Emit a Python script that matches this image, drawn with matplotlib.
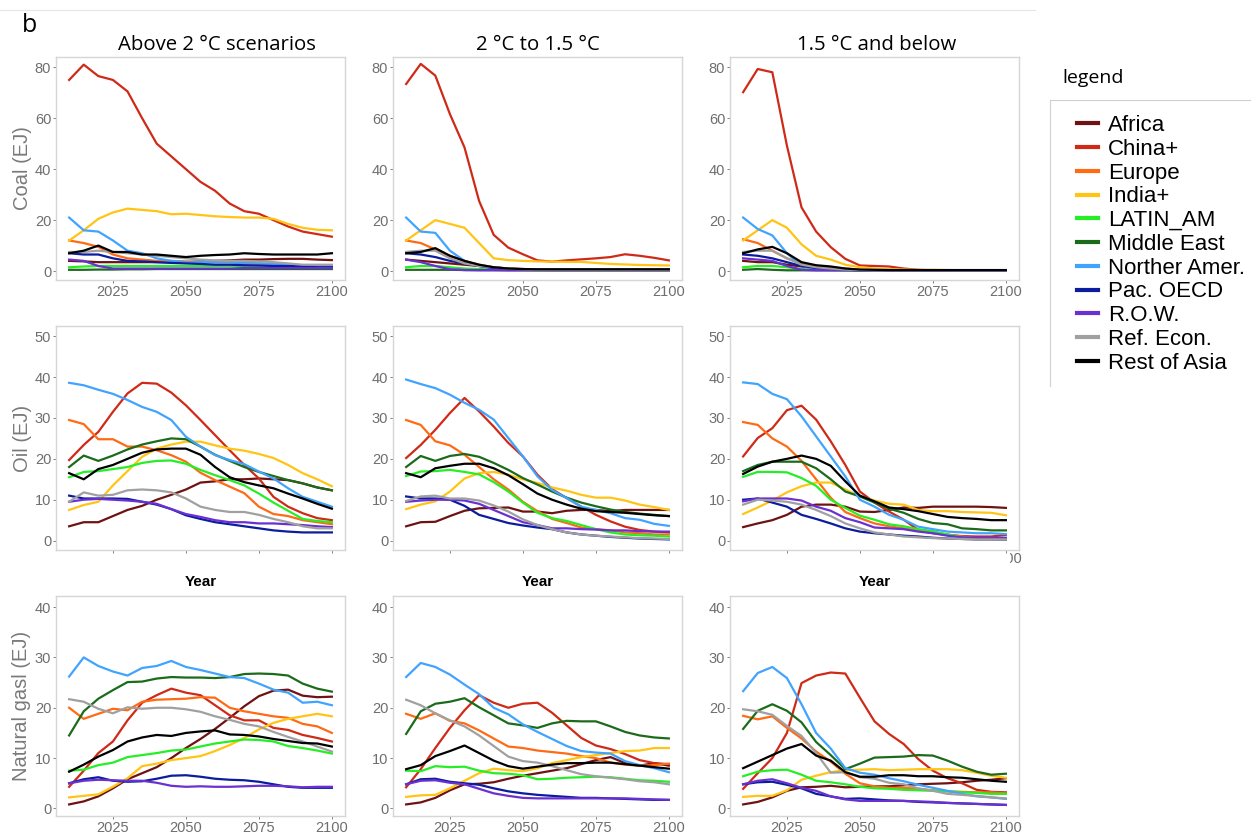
import matplotlib
matplotlib.use('Agg')
import matplotlib.pyplot as plt
from matplotlib.transforms import Bbox

W, H = 1256, 836

years = [2010, 2015, 2020, 2025, 2030, 2035, 2040, 2045, 2050, 2055,
         2060, 2065, 2070, 2075, 2080, 2085, 2090, 2095, 2100]

regions = ['Africa', 'China+', 'Europe', 'India+', 'LATIN_AM', 'Middle East',
           'Norther Amer.', 'Pac. OECD', 'R.O.W.', 'Ref. Econ.', 'Rest of Asia']
colors = ['#6E1212', '#CF2A17', '#FF6A14', '#FFC414', '#26EE26', '#1B6B1B',
          '#40A4FF', '#0B1C9C', '#6A30D2', '#A0A0A0', '#000000']

scenarios = ['Above 2 °C scenarios', '2 °C to 1.5 °C', '1.5 °C and below']
fuels = ['Coal (EJ)', 'Oil (EJ)', 'Natural gasl (EJ)']

## Coal, one row per region (same order as regions)
coal_above2 = [
    [4, 3.8, 3.5, 3.5, 3.5, 3.5, 3.5, 3.5, 3.5, 3.8, 4, 4.2, 4.5, 4.5, 4.7, 4.8, 4.8, 4.5, 4.3],
    [75, 81, 76.5, 75, 70.5, 60, 50, 45, 40, 35, 31.5, 26.5, 23.5, 22.5, 20, 17.5, 15.5, 14.5, 13.5],
    [12, 11, 9.5, 6.5, 5, 4.5, 4, 4, 3.8, 3.6, 3.5, 3.5, 3.3, 3, 2.8, 2.5, 2.2, 2, 2],
    [12, 16, 20.5, 23, 24.5, 24, 23.5, 22.3, 22.5, 22, 21.5, 21.2, 21, 21, 20.5, 18.5, 17, 16.2, 16],
    [1.5, 1.8, 2, 2, 2, 2, 2, 2, 2, 2, 2, 2, 2, 2, 2, 2, 2, 1.8, 1.8],
    [0.5, 0.5, 0.6, 0.6, 0.7, 0.7, 0.8, 0.8, 0.8, 0.8, 0.8, 0.8, 0.8, 0.8, 0.8, 0.8, 0.8, 0.8, 0.8],
    [21, 16, 15.5, 12, 8, 7, 5, 4, 3.5, 3.5, 3.5, 3.5, 3, 3, 2.8, 2.5, 2.2, 2, 2],
    [7, 6.5, 6.5, 5, 4, 3.8, 3.5, 3.2, 3, 2.8, 2.5, 2.5, 2.3, 2.2, 2, 2, 1.8, 1.5, 1.5],
    [4.5, 4, 2, 1, 1, 1, 1, 1, 1, 1, 1, 1, 1.2, 1.2, 1.2, 1.2, 1.2, 1.2, 1.2],
    [7.5, 7.5, 8, 7.5, 7, 6.5, 6, 5.5, 5, 4.5, 4.2, 4, 4, 3.8, 3.5, 3, 2.5, 2.5, 2.5],
    [7, 8, 10, 7.5, 7.5, 6.5, 6.5, 6, 5.5, 6, 6.3, 6.5, 7, 6.7, 6.5, 6.5, 6.5, 6.5, 7],
]
coal_2to15 = [
    [4.5, 4, 3.5, 3, 2.5, 2, 1.5, 1, 0.8, 0.6, 0.5, 0.5, 0.5, 0.5, 0.5, 0.5, 0.5, 0.5, 0.5],
    [73.4, 81.3, 76.7, 61.6, 48.5, 27.5, 14.2, 9.2, 6.6, 4.2, 3.7, 4.2, 4.6, 5, 5.5, 6.6, 6, 5.2, 4.2],
    [12, 11, 8.5, 6, 4, 2.5, 1.5, 1, 0.7, 0.5, 0.4, 0.4, 0.4, 0.4, 0.4, 0.4, 0.4, 0.4, 0.4],
    [12, 16, 20, 18.5, 17, 11, 5, 4.3, 4, 3.8, 3.7, 3.6, 3.6, 3.2, 2.8, 2.6, 2.4, 2.3, 2.2],
    [1.5, 2, 2, 1.5, 1, 0.8, 0.6, 0.5, 0.5, 0.4, 0.4, 0.4, 0.4, 0.4, 0.4, 0.4, 0.4, 0.4, 0.4],
    [0.5, 0.5, 0.5, 0.5, 0.4, 0.4, 0.4, 0.3, 0.3, 0.3, 0.3, 0.3, 0.3, 0.3, 0.3, 0.3, 0.3, 0.3, 0.3],
    [21, 15.5, 15, 8, 4, 2, 1, 0.8, 0.6, 0.5, 0.5, 0.5, 0.5, 0.5, 0.5, 0.5, 0.5, 0.5, 0.5],
    [7, 6.5, 5.5, 4, 3, 2, 1.2, 0.8, 0.6, 0.5, 0.5, 0.5, 0.5, 0.5, 0.5, 0.5, 0.5, 0.5, 0.5],
    [4.5, 3.5, 2, 0.7, 0.4, 0.3, 0.3, 0.3, 0.3, 0.3, 0.3, 0.3, 0.3, 0.3, 0.3, 0.3, 0.3, 0.3, 0.3],
    [7.5, 8, 8, 5, 3, 2, 1.5, 1, 0.7, 0.5, 0.5, 0.5, 0.5, 0.5, 0.5, 0.5, 0.5, 0.5, 0.5],
    [7, 7.5, 9, 6, 4, 2.5, 1.5, 1, 0.8, 0.7, 0.7, 0.7, 0.7, 0.7, 0.7, 0.7, 0.7, 0.7, 0.7],
]
coal_below15 = [
    [4, 3.5, 3.5, 2.5, 1.8, 1.2, 0.8, 0.5, 0.4, 0.3, 0.3, 0.3, 0.3, 0.3, 0.3, 0.3, 0.3, 0.3, 0.3],
    [70.2, 79.3, 78, 49.2, 25, 15.5, 9.4, 4.8, 2.2, 2, 1.8, 1, 0.5, 0.3, 0.3, 0.3, 0.3, 0.3, 0.3],
    [12.5, 11, 8, 5, 3, 2, 1.5, 1, 0.5, 0.4, 0.3, 0.3, 0.3, 0.3, 0.3, 0.3, 0.3, 0.3, 0.3],
    [12, 16, 20, 17, 10.5, 6, 4.5, 2.5, 1.5, 1, 0.8, 0.6, 0.5, 0.5, 0.4, 0.3, 0.3, 0.3, 0.3],
    [1.5, 2, 2, 1.5, 0.8, 0.5, 0.4, 0.3, 0.3, 0.3, 0.3, 0.3, 0.3, 0.3, 0.3, 0.3, 0.3, 0.3, 0.3],
    [0.5, 0.8, 0.5, 0.3, 0.3, 0.3, 0.3, 0.3, 0.3, 0.3, 0.3, 0.3, 0.3, 0.3, 0.3, 0.3, 0.3, 0.3, 0.3],
    [21, 16.5, 14, 7, 2, 1, 0.6, 0.4, 0.3, 0.3, 0.3, 0.3, 0.3, 0.3, 0.3, 0.3, 0.3, 0.3, 0.3],
    [6.5, 6, 5, 3.5, 2, 1.2, 0.8, 0.5, 0.3, 0.3, 0.3, 0.3, 0.3, 0.3, 0.3, 0.3, 0.3, 0.3, 0.3],
    [5, 4.5, 4, 2, 0.5, 0.3, 0.3, 0.3, 0.3, 0.3, 0.3, 0.3, 0.3, 0.3, 0.3, 0.3, 0.3, 0.3, 0.3],
    [7.5, 8, 8, 5, 2.5, 1.5, 1, 0.6, 0.4, 0.3, 0.3, 0.3, 0.3, 0.3, 0.3, 0.3, 0.3, 0.3, 0.3],
    [7, 8.5, 9.5, 7, 3.5, 2.3, 1.8, 1, 0.6, 0.5, 0.4, 0.4, 0.4, 0.4, 0.4, 0.4, 0.4, 0.4, 0.4],
]

## Oil
oil_above2 = [
    [3.5, 4.5, 4.5, 6, 7.5, 8.5, 10, 11.2, 12.5, 14.2, 14.5, 15, 15, 15.2, 15, 14.8, 14, 13, 12.3],
    [19.7, 23.4, 26.6, 31.5, 36, 38.6, 38.4, 36.2, 33.1, 29.5, 25.8, 22.1, 18.5, 15.2, 10.7, 8.3, 6.7, 5.5, 5],
    [29.5, 28.5, 24.8, 24.8, 23, 23, 22.1, 20.9, 19.3, 16.6, 14.8, 13.2, 11.6, 8.3, 6.5, 6, 5, 4.5, 4],
    [7.5, 8.7, 9.5, 13.5, 17, 20.5, 22.5, 23.5, 24.2, 24.2, 23.3, 22.5, 22, 21.2, 20.2, 18.5, 16.5, 15, 13.3],
    [15.5, 16.8, 17, 17.5, 18, 19, 19.5, 19.6, 18.8, 17.3, 16, 14.8, 13.5, 11.5, 9.3, 7.3, 5.3, 4.8, 4.5],
    [18, 20.8, 19.5, 20.8, 22.3, 23.5, 24.3, 25, 24.8, 23, 21, 19.5, 18, 16.8, 15.8, 14.8, 14, 13, 12.3],
    [38.6, 38, 36.9, 35.9, 34.4, 32.7, 31.5, 29.5, 25.4, 23, 20.9, 19.7, 18.7, 16.9, 15.2, 12.8, 10.7, 9.5, 8.3],
    [11, 10.3, 10.3, 10.3, 10.2, 9.5, 8.8, 7.7, 6.2, 5.3, 4.5, 4, 3.5, 3, 2.5, 2.2, 2, 2, 2],
    [9.5, 10, 10.2, 10, 9.8, 9.5, 9, 7.7, 6.5, 5.8, 5, 4.5, 4.5, 4.2, 4.2, 4, 3.8, 3.5, 3.3],
    [9.5, 11.8, 11, 11.2, 12.3, 12.5, 12.3, 11.8, 10.3, 8.3, 7.5, 7, 7, 6.3, 5.3, 4.5, 3.5, 3, 3],
    [16.5, 15, 17.5, 18.5, 20, 21.5, 22.3, 22.5, 22.5, 21, 18, 15.5, 14.3, 13.5, 12.8, 11.5, 10.3, 9, 7.8],
]
oil_2to15 = [
    [3.5, 4.5, 4.6, 6, 7.3, 7.9, 8, 8.1, 7.1, 7.1, 6.7, 7.3, 7.5, 7.5, 7.2, 7.5, 7.5, 7.5, 7.5],
    [20.2, 23.4, 27.1, 31.2, 34.9, 31.6, 27.9, 23.9, 20.6, 16.1, 12.6, 10.4, 8.3, 6.3, 4.7, 3.4, 2.6, 2.2, 2],
    [29.5, 28.3, 24.3, 23.3, 21, 18, 15, 12.5, 9.5, 7.2, 5.3, 4.3, 3.2, 2.8, 2.5, 2, 1.8, 1.5, 1.5],
    [7.7, 8.8, 9.6, 12, 15.2, 16.5, 16.8, 16.1, 15, 14.1, 13, 12.2, 11.2, 10.5, 10.5, 9.8, 8.8, 8.2, 7.5],
    [15.8, 16.9, 17, 17.3, 16.8, 16.2, 14.3, 12, 9.3, 6.8, 5.5, 4.8, 3.8, 2.8, 2, 1.5, 1.3, 1.2, 1],
    [18, 20.7, 19.5, 20.7, 21.2, 20.5, 19, 17.3, 15.3, 13.7, 12, 10.5, 9.3, 8.4, 7.6, 7, 6.6, 6.3, 6],
    [39.4, 38.3, 37.3, 35.7, 33.7, 32, 29.6, 25.1, 20.6, 15.7, 12.4, 10.4, 8.3, 7.5, 6.7, 5.5, 5.1, 4.1, 3.6],
    [10.8, 10.3, 10.3, 10, 8.5, 6.3, 5.3, 4.3, 3.7, 3.2, 2.8, 2, 1.5, 1.2, 0.9, 0.7, 0.5, 0.4, 0.3],
    [9.5, 9.8, 10, 10, 9.8, 9, 7.5, 6, 4.5, 3.8, 3, 3, 2.8, 2.7, 2.5, 2.5, 2.3, 2.2, 2.2],
    [9.7, 10.8, 11, 10.3, 10.3, 9.8, 8.6, 7.1, 5.2, 3.8, 2.8, 2, 1.5, 1.2, 1, 0.8, 0.6, 0.5, 0.4],
    [16.5, 15.5, 17.7, 18.3, 18.8, 18.8, 17.7, 16, 13.8, 11.5, 10, 8.8, 7.8, 7.2, 7, 6.8, 6.5, 6.2, 6],
]
oil_below15 = [
    [3.3, 4.2, 5, 6.3, 8.3, 8.8, 8.8, 8.3, 7.1, 7, 7.5, 8.1, 8, 8.3, 8.3, 8.3, 8.3, 8.2, 8],
    [20.6, 25.1, 27.5, 31.9, 33, 29.6, 24.3, 18.5, 12, 9.3, 7.1, 5.1, 2.6, 1.8, 1.4, 1.1, 1, 1, 1.4],
    [29, 28.3, 25, 23, 19.5, 15, 10.5, 7, 5.5, 4.2, 3.5, 3, 2.5, 2, 1.5, 1, 0.5, 0.4, 0.3],
    [6.5, 8.1, 9.8, 11.8, 13.3, 14.2, 14.2, 12.5, 10.8, 9.8, 9, 8.8, 7.5, 7.2, 7.2, 7, 6.9, 6.8, 6.2],
    [15.6, 16.8, 16.8, 16.7, 15.3, 13.4, 10, 8, 6.1, 5.1, 4, 3.5, 2.8, 2.3, 1.5, 0.8, 0.6, 0.5, 0.5],
    [17, 18.5, 19.3, 19.3, 19.3, 17.7, 15, 12, 10.8, 9.3, 7.8, 6.8, 5.3, 4.3, 4, 3, 2.8, 2.5, 2.5],
    [38.7, 38.3, 35.9, 34.6, 30.4, 25.5, 20.6, 15.7, 10, 8.3, 6.3, 5.1, 3.4, 2.8, 2.2, 2, 1.8, 1.8, 1.6],
    [10, 10.3, 9.3, 8.3, 6.3, 5.3, 4.2, 3, 2.2, 1.8, 1.5, 1.2, 1, 0.7, 0.5, 0.4, 0.3, 0.3, 0.3],
    [9.6, 10.3, 10.3, 10.3, 9.8, 8.3, 7.3, 5.5, 4.5, 3.2, 3, 2.8, 2.2, 1.8, 1.2, 0.8, 0.7, 0.7, 0.7],
    [8.8, 10, 9.8, 9.5, 8.8, 7.5, 6, 4.2, 3, 2, 1.5, 1, 0.8, 0.6, 0.5, 0.4, 0.3, 0.3, 0.3],
    [16.3, 18.1, 19.3, 20, 20.8, 20, 18.3, 14.5, 11, 9.6, 8.1, 7.7, 7.2, 6.5, 5.8, 5.5, 5.3, 5, 5],
]

## Natural gas
gas_above2 = [
    [0.8, 1.4, 2.4, 4, 5.8, 7, 8.2, 10, 12, 13.8, 15.8, 18, 20.3, 22.3, 23.4, 23.6, 22.4, 22.1, 22.2],
    [4.3, 7.5, 11, 13.3, 17.5, 21, 22.5, 23.8, 23, 22.5, 20.5, 18.5, 17.5, 17.5, 16, 15.6, 14.6, 14, 13.3],
    [20, 17.8, 18.8, 19.8, 19.5, 21.2, 21.6, 21.7, 21.8, 22.1, 22, 20, 19.3, 18.8, 18.3, 18, 16.8, 16.3, 15],
    [2.2, 2.5, 2.8, 4.3, 6, 8.4, 8.9, 9.6, 10, 10.4, 11.4, 12.6, 14, 15.7, 17, 17.8, 18.3, 18.8, 18.3],
    [7.5, 7.7, 8.6, 9.1, 10.2, 10.6, 11, 11.5, 11.7, 12.3, 12.9, 13.3, 13.7, 13.6, 13.3, 12.4, 12, 11.5, 10.9],
    [14.5, 19.3, 21.8, 23.5, 25.1, 25.2, 25.8, 26.1, 26, 26, 25.9, 26.1, 26.7, 26.8, 26.7, 26.4, 24.8, 23.8, 23.2],
    [26.2, 30, 28.3, 27.2, 26.4, 27.9, 28.3, 29.3, 28.1, 27.5, 26.8, 26.1, 25.9, 24.8, 23.6, 23, 21, 21.2, 20.5],
    [5, 5.8, 6.2, 5.5, 5.3, 5.4, 5.9, 6.5, 6.6, 6.3, 5.9, 5.7, 5.6, 5.3, 4.8, 4.3, 4.1, 4.1, 4.1],
    [5, 5.5, 5.7, 5.6, 5.5, 5.5, 5.1, 4.5, 4.3, 4.4, 4.3, 4.3, 4.4, 4.5, 4.5, 4.4, 4.2, 4.3, 4.3],
    [21.7, 21.2, 19.8, 18.9, 20.1, 19.8, 20, 20, 19.7, 19.2, 18.3, 17.6, 16.8, 16.3, 15.2, 14.2, 13.3, 12.3, 11.3],
    [7.3, 8.7, 10.3, 11.6, 13.3, 14.1, 14.6, 14.4, 15, 15.3, 15.5, 14.7, 14.6, 14.3, 13.8, 13.4, 13, 12.9, 12.3],
]
gas_2to15 = [
    [0.8, 1.2, 2.1, 3.6, 4.8, 4.9, 5.2, 5.9, 6.5, 7, 7.5, 8, 8.8, 9.6, 10.2, 9, 8.5, 9, 8.5],
    [4.2, 7.8, 12, 16, 19.5, 22.5, 21, 20, 20.8, 21, 19, 16.5, 14, 12.5, 11.8, 10.8, 9.6, 9, 8.8],
    [18.8, 17.8, 18.9, 17.4, 16.9, 15.5, 13.9, 12.3, 12, 11.5, 11.2, 10.9, 10.4, 10, 9.1, 8.7, 8.5, 8.6, 8.9],
    [2.3, 2.6, 2.7, 4, 5.5, 7, 7.9, 7.6, 7.4, 8, 9, 9.6, 10.2, 10.6, 11, 11.4, 11.5, 12, 12],
    [7.5, 7.4, 8.4, 8.2, 8.3, 7.5, 7, 6.9, 6.6, 5.8, 5.9, 6.1, 6.2, 6.3, 6.2, 5.9, 5.6, 5.5, 5.3],
    [14.8, 19.3, 20.8, 21.2, 21.9, 20.1, 18.5, 16.9, 16.5, 16, 16.9, 17.4, 17.3, 17.3, 16.3, 15.2, 14.5, 14.1, 13.9],
    [26.1, 28.9, 28.1, 26.6, 24.6, 22.7, 20, 18.7, 16.7, 15.2, 13.8, 12.4, 11.4, 11.1, 10.9, 9.4, 8.6, 8, 7.2],
    [4.8, 5.8, 5.9, 5.3, 5, 4.7, 4, 3.4, 3, 2.7, 2.5, 2.3, 2.1, 2.1, 2, 1.9, 1.8, 1.7, 1.7],
    [4.8, 5.5, 5.6, 5.1, 4.8, 3.9, 3, 2.5, 2.1, 2, 2, 2, 2, 2, 2, 2, 1.9, 1.8, 1.7],
    [21.6, 20.5, 18.9, 17.5, 16.3, 14.5, 12.4, 10.3, 9.4, 9.1, 8.4, 7.6, 6.8, 6.4, 6.1, 5.8, 5.4, 5.2, 4.8],
    [7.8, 8.6, 10.4, 11.4, 12.5, 11, 9.5, 8.4, 7.9, 8.3, 8.7, 9, 9, 9.1, 9.1, 8.8, 8.5, 8.2, 7.9],
]
gas_below15 = [
    [0.8, 1.3, 2.2, 3.5, 4.2, 4.3, 4.5, 4.2, 4.3, 4.4, 4.4, 4.6, 4.8, 4.9, 5, 5.2, 5.5, 5.7, 6],
    [3.9, 7, 10, 15, 24.9, 26.4, 27, 26.8, 22, 17.3, 14.8, 12.8, 9.8, 7.5, 6, 5, 3.7, 3.3, 3.2],
    [18.4, 17.7, 18.3, 16, 13.9, 11.3, 9.3, 6.9, 5, 4.4, 4.1, 4.1, 3.9, 3.6, 3.4, 3.3, 3.2, 3.2, 3],
    [2.3, 2.5, 2.5, 3.6, 5.7, 6.5, 7.2, 7.6, 7.7, 7.8, 7.6, 7.7, 7.8, 7.8, 7.8, 7.6, 7.1, 6.5, 6.1],
    [6.4, 7.3, 7.6, 7.7, 6.7, 5.5, 5.2, 4.8, 4.3, 4, 3.9, 3.7, 3.6, 3.5, 3.4, 3.2, 3.1, 2.9, 2.9],
    [15.8, 19.4, 20.7, 19.4, 17.1, 13.2, 10.6, 7.8, 8.9, 10.1, 10.2, 10.3, 10.6, 10.5, 9.5, 8.3, 7.3, 6.7, 6.9],
    [23.3, 26.9, 28.1, 25.9, 20.7, 15, 11.9, 8, 7.1, 6.7, 6, 5.4, 4.7, 4.1, 3.5, 2.9, 2.4, 2.2, 1.9],
    [4.8, 5.2, 5.3, 4.7, 4, 2.9, 2.4, 1.9, 2, 1.8, 1.6, 1.5, 1.3, 1.2, 1.1, 1, 0.9, 0.8, 0.7],
    [4.8, 5.5, 5.8, 5, 4.1, 3.5, 2.4, 1.8, 1.5, 1.5, 1.5, 1.5, 1.4, 1.3, 1.1, 1, 0.9, 0.8, 0.7],
    [19.7, 19.3, 18.6, 16.4, 14.4, 11, 7.1, 7.2, 6.2, 5.9, 5.1, 4.8, 4, 3.5, 2.9, 2.7, 2.5, 2.2, 2],
    [8, 9.3, 10.6, 11.9, 12.8, 10.5, 9.5, 7.2, 6.3, 6.3, 6.6, 6.6, 6.4, 6.4, 6.2, 6.1, 5.8, 5.5, 5.3],
]

panels = [[coal_above2, coal_2to15, coal_below15],
          [oil_above2, oil_2to15, oil_below15],
          [gas_above2, gas_2to15, gas_below15]]

# panel boxes in pixels
col_x = [(56, 345), (393, 682), (730, 1019)]
row_y = [(57, 280), (326, 550), (596, 816)]
ylims = [(-3.5, 84), (-2.3, 52.5), (-1.5, 42.2)]
yticks = [[0, 20, 40, 60, 80], [0, 10, 20, 30, 40, 50], [0, 10, 20, 30, 40]]
title_x = [217, 538, 877]

tick_font = 'Liberation Sans'
tick_col = '#6E6E6E'
frame_col = '#D6D6D6'


def rect(x0, x1, y0, y1):
    return [x0 / W, 1 - y1 / H, (x1 - x0) / W, (y1 - y0) / H]


fig = plt.figure(figsize=(W / 100, H / 100), dpi=100)

handles = []
for r in range(3):
    for c in range(3):
        ax = fig.add_axes(rect(col_x[c][0], col_x[c][1], row_y[r][0], row_y[r][1]))
        data = panels[r][c]
        for k in range(len(regions)):
            ln, = ax.plot(years, data[k], color=colors[k], lw=1.6, label=regions[k])
            if r == 0 and c == 0:
                handles.append(ln)
        ax.set_xlim(2005.5, 2104.5)
        ax.set_ylim(*ylims[r])
        ax.set_xticks([2025, 2050, 2075, 2100])
        ax.set_yticks(yticks[r])
        for s in ax.spines.values():
            s.set_color(frame_col)
            s.set_linewidth(1.0)
        ax.tick_params(colors=tick_col, length=2.5, width=0.6, labelsize=10.5, pad=1)
        for lab in ax.get_xticklabels() + ax.get_yticklabels():
            lab.set_family(tick_font)
            lab.set_color(tick_col)
        if r == 1:
            ax.set_xticklabels([])

# column titles
for c in range(3):
    fig.text(title_x[c] / W, 1 - 45 / H, scenarios[c], ha='center', va='center',
             fontsize=14.7, family='Open Sans')

# y axis titles
for r in range(3):
    yc = (row_y[r][0] + row_y[r][1]) / 2
    fig.text(22 / W, 1 - yc / H, fuels[r], rotation=90, ha='center', va='center',
             fontsize=14.5, family=tick_font, color='#7A7A7A')

# "Year" under the middle row
for c in range(3):
    xc = (col_x[c][0] + col_x[c][1]) / 2
    fig.text(xc / W, 1 - 582 / H, 'Year', ha='center', va='center', fontsize=11,
             fontweight='bold', family=tick_font, color='black')

# clipped stray label at the right of the oil panel
t = fig.text(1006 / W, 1 - 559 / H, '2100', ha='center', va='center', fontsize=10.5,
             family=tick_font, color=tick_col)
t.set_clip_box(Bbox.from_extents(1010, H - 572, 1026, H - 545))
t.set_clip_on(True)

fig.text(22 / W, 1 - 26 / H, 'b', fontsize=18, family='Open Sans', va='center', ha='left')

# thin frame line at the top
fig.add_artist(plt.Line2D([0, 1035 / W], [1 - 10 / H, 1 - 10 / H], color='#E6E6E6', lw=0.8))

# legend
fig.text(1062 / W, 1 - 78 / H, 'legend', fontsize=14, family='Open Sans', va='center')
fig.add_artist(plt.Line2D([1050 / W, 1250 / W], [1 - 100 / H, 1 - 100 / H], color='#D0D0D0', lw=0.8))
fig.add_artist(plt.Line2D([1050 / W, 1050 / W], [1 - 100 / H, 1 - 386 / H], color='#D0D0D0', lw=0.8))
leg = fig.legend(handles=handles, loc='upper left', bbox_to_anchor=(1077 / W, 1 - 115 / H),
                 frameon=False, prop={'family': tick_font, 'size': 16},
                 handlelength=0.95, handletextpad=0.45, labelspacing=0.125,
                 borderaxespad=0, borderpad=0)
for h in leg.get_lines():
    h.set_linewidth(3)

plt.savefig('out.png', dpi=100)
